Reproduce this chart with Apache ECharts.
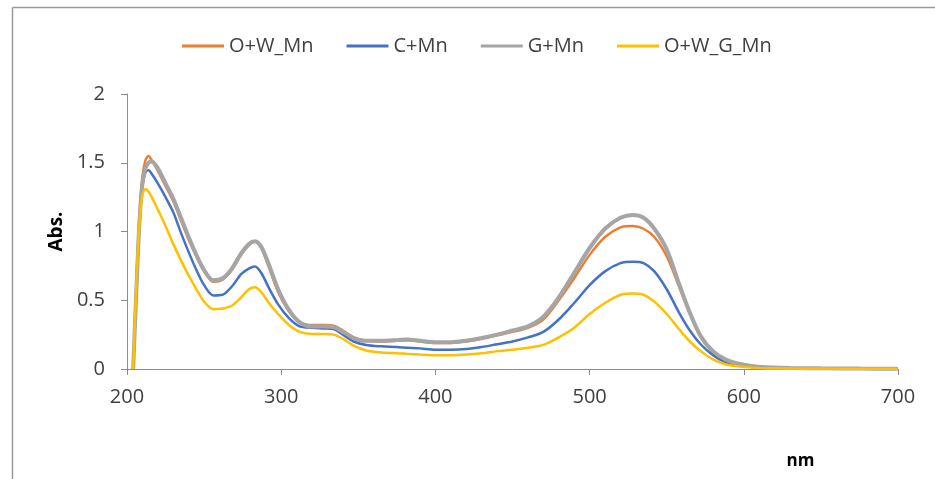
<!DOCTYPE html>
<html>
<head>
<meta charset="utf-8">
<script src="https://cdn.jsdelivr.net/npm/echarts@6/dist/echarts.min.js"></script>
<style>
html,body{margin:0;padding:0;background:#fff;}
#chart{width:935px;height:479px;}
</style>
</head>
<body>
<div id="chart"></div>
<script>
var wavelengths = [204,206,208,210,212,214,216,220,225,230,235,240,245,250,256,262,268,274,279,283,287,292,298,305,312,320,328,334,340,347,355,365,375,382,390,400,410,420,430,440,450,460,470,480,490,500,510,520,528,535,542,550,558,565,572,580,588,596,605,615,630,650,675,700];

var owMn = [0,0.6,1.1,1.4,1.52,1.55,1.52,1.44,1.33,1.22,1.08,0.94,0.82,0.71,0.635,0.65,0.72,0.83,0.9,0.925,0.88,0.74,0.56,0.42,0.34,0.32,0.32,0.315,0.28,0.23,0.205,0.2,0.205,0.21,0.2,0.19,0.19,0.2,0.22,0.245,0.27,0.3,0.36,0.5,0.66,0.83,0.96,1.03,1.04,1.02,0.96,0.82,0.6,0.4,0.23,0.12,0.06,0.035,0.02,0.012,0.008,0.005,0.003,0.002];

var cMn = [0,0.55,1.05,1.32,1.43,1.445,1.42,1.35,1.25,1.14,0.99,0.85,0.72,0.61,0.535,0.54,0.6,0.69,0.73,0.745,0.7,0.59,0.47,0.37,0.31,0.3,0.295,0.29,0.25,0.2,0.175,0.165,0.16,0.155,0.15,0.14,0.14,0.145,0.16,0.18,0.2,0.23,0.27,0.36,0.48,0.61,0.71,0.77,0.78,0.77,0.71,0.58,0.41,0.28,0.18,0.1,0.05,0.03,0.015,0.01,0.006,0.004,0.002,0.001];

var gMn = [0,0.55,1.05,1.35,1.46,1.5,1.51,1.46,1.35,1.24,1.1,0.96,0.83,0.72,0.645,0.66,0.73,0.84,0.91,0.93,0.89,0.76,0.58,0.43,0.34,0.31,0.31,0.305,0.27,0.225,0.205,0.205,0.21,0.215,0.205,0.195,0.195,0.205,0.225,0.25,0.28,0.31,0.38,0.52,0.7,0.88,1.02,1.1,1.12,1.1,1.02,0.87,0.62,0.41,0.24,0.13,0.07,0.04,0.022,0.013,0.008,0.005,0.003,0.002];

var owGMn = [0,0.6,1.05,1.27,1.31,1.29,1.25,1.16,1.04,0.91,0.79,0.68,0.58,0.49,0.435,0.44,0.46,0.52,0.58,0.595,0.56,0.48,0.4,0.32,0.27,0.255,0.255,0.25,0.22,0.17,0.135,0.12,0.115,0.11,0.105,0.1,0.1,0.105,0.115,0.13,0.14,0.155,0.175,0.23,0.3,0.4,0.48,0.54,0.55,0.54,0.49,0.4,0.29,0.2,0.13,0.07,0.035,0.02,0.01,0.006,0.004,0.003,0.002,0.001];

var seriesNames = ['O+W_Mn','C+Mn','G+Mn','O+W_G_Mn'];
var seriesValues = [owMn, cMn, gMn, owGMn];
var seriesColors = ['#ED7D31','#4472C4','#A5A5A5','#FFC000'];
var seriesWidths = [2.5, 2.5, 4, 2.5];

var FONT = "'Open Sans', 'Noto Sans', sans-serif";

function pairs(vals){
  return wavelengths.map(function(w,i){ return [w, vals[i]]; });
}

var chart = echarts.init(document.getElementById('chart'), null, {renderer:'canvas'});
chart.setOption({
  backgroundColor:'#ffffff',
  animation:false,
  grid:{left:127, right:37, top:94, bottom:110, containLabel:false},
  legend:{
    top:31, left:177,
    itemWidth:42, itemHeight:12, itemGap:33,
    icon:'path://M0,0 L42,0 L42,3 L0,3 Z',
    textStyle:{fontFamily:FONT, fontSize:20, color:'#404040'},
    data:seriesNames
  },
  xAxis:{
    type:'value', min:200, max:700, interval:100,
    name:'nm', nameLocation:'middle', nameGap:84,
    nameTextStyle:{fontFamily:FONT, fontSize:17, fontWeight:'bold', color:'#000', padding:[0,0,0,576]},
    axisLine:{show:true, lineStyle:{color:'#8c8c8c', width:1}},
    axisTick:{show:true, length:6, inside:false, lineStyle:{color:'#8c8c8c'}},
    axisLabel:{fontFamily:FONT, fontSize:20, color:'#404040', margin:18},
    splitLine:{show:false}
  },
  yAxis:{
    type:'value', min:0, max:2, interval:0.5,
    name:'Abs.', nameLocation:'middle', nameGap:53,
    nameTextStyle:{fontFamily:FONT, fontSize:19, fontWeight:'bold', color:'#000'},
    axisLine:{show:true, lineStyle:{color:'#8c8c8c', width:1}},
    axisTick:{show:true, length:6, inside:false, lineStyle:{color:'#8c8c8c'}},
    axisLabel:{fontFamily:FONT, fontSize:20, color:'#404040', margin:22},
    splitLine:{show:false}
  },
  graphic:[
    {type:'line', shape:{x1:12.5, y1:7.5, x2:935, y2:7.5}, style:{stroke:'#9a9a9a', lineWidth:1.5}, silent:true},
    {type:'line', shape:{x1:12.5, y1:7.5, x2:12.5, y2:479}, style:{stroke:'#9a9a9a', lineWidth:1.5}, silent:true}
  ],
  series: seriesNames.map(function(n,i){
    return {
      name:n, type:'line', data:pairs(seriesValues[i]),
      smooth:0.3, symbol:'none', showSymbol:false,
      color:seriesColors[i],
      lineStyle:{color:seriesColors[i], width:seriesWidths[i]},
      itemStyle:{color:seriesColors[i]}
    };
  })
});
</script>
</body>
</html>
